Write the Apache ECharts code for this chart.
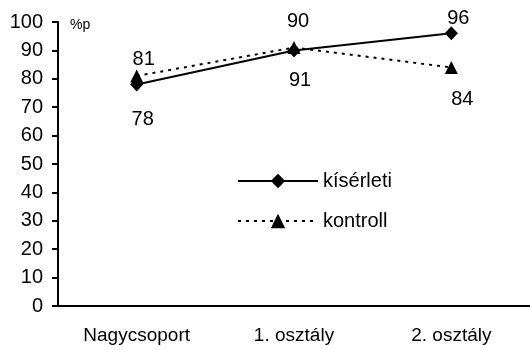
<!DOCTYPE html>
<html>
<head>
<meta charset="utf-8">
<script src="https://cdn.jsdelivr.net/npm/echarts@6/dist/echarts.min.js"></script>
<style>
  html, body { margin: 0; padding: 0; background: #fff; }
  #chart { width: 530px; height: 350px; }
</style>
</head>
<body>
<div id="chart"></div>
<script>
// Groups along the x axis
const categories = ['Nagycsoport', '1. osztály', '2. osztály'];
// Scores (%p) per group
const kiserletiValues = [78, 90, 96];
const kontrollValues = [81, 91, 84];
// Y axis range
const yTicks = { min: 0, max: 100, step: 10 };

// Per-point label placement (offset from the point centre)
const kiserletiLabelOffsets = [[6, 35], [4, -29], [7, -15]];
const kontrollLabelOffsets = [[7, -16], [6, 33], [11, 32]];

const FONT = 'Liberation Sans, Arial, sans-serif';

function withLabels(values, offsets) {
  return values.map((v, i) => ({
    value: v,
    label: { offset: offsets[i] }
  }));
}

const chart = echarts.init(document.getElementById('chart'), null, { renderer: 'canvas' });

const labelStyle = {
  show: true,
  position: 'inside',
  color: '#000',
  fontFamily: FONT,
  fontSize: 20
};

chart.setOption({
  animation: false,
  backgroundColor: '#fff',
  grid: { left: 58, right: -5, top: 22, bottom: 44, containLabel: false },
  xAxis: {
    type: 'category',
    data: categories,
    boundaryGap: true,
    axisLine: { lineStyle: { color: '#000', width: 2 } },
    axisTick: { length: 6, lineStyle: { color: '#000', width: 2 } },
    axisLabel: { color: '#000', fontFamily: FONT, fontSize: 19, margin: 20 },
    splitLine: { show: false }
  },
  yAxis: {
    type: 'value',
    min: yTicks.min,
    max: yTicks.max,
    interval: yTicks.step,
    axisLine: { show: true, lineStyle: { color: '#000', width: 2 } },
    axisTick: { show: true, length: 6, lineStyle: { color: '#000', width: 2 } },
    axisLabel: { color: '#000', fontFamily: FONT, fontSize: 20, margin: 15 },
    splitLine: { show: false }
  },
  legend: {
    orient: 'vertical',
    left: 232,
    top: 166,
    itemWidth: 80,
    itemHeight: 18,
    itemGap: 20,
    textStyle: { color: '#000', fontFamily: FONT, fontSize: 20 },
    data: ['kísérleti', 'kontroll']
  },
  graphic: [{
    type: 'text',
    left: 70,
    top: 18,
    style: { text: '%p', fill: '#000', font: '14px ' + FONT }
  }],
  series: [
    {
      name: 'kontroll',
      type: 'line',
      data: withLabels(kontrollValues, kontrollLabelOffsets),
      symbol: 'triangle',
      symbolSize: [13, 13],
      lineStyle: { color: '#000', width: 2, type: [3, 5] },
      itemStyle: { color: '#000' },
      label: labelStyle,
      z: 2
    },
    {
      name: 'kísérleti',
      type: 'line',
      data: withLabels(kiserletiValues, kiserletiLabelOffsets),
      symbol: 'diamond',
      symbolSize: [13, 14],
      lineStyle: { color: '#000', width: 2 },
      itemStyle: { color: '#000' },
      label: labelStyle,
      z: 3
    }
  ]
});
</script>
</body>
</html>
